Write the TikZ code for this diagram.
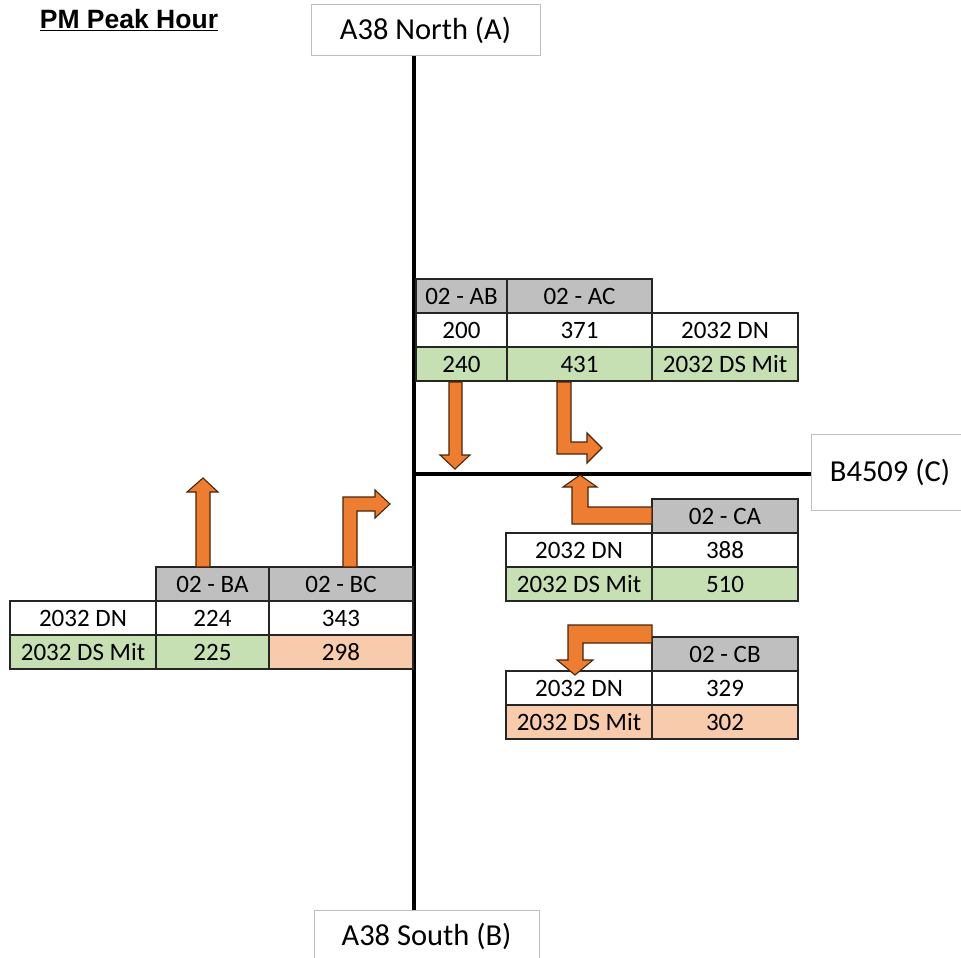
\documentclass[tikz,border=0pt]{standalone}
\usepackage{fontspec}
\setmainfont{Carlito}
\newfontfamily\titlefont{Liberation Sans}
\usetikzlibrary{positioning}
\definecolor{hdrgray}{HTML}{BFBFBF}
\definecolor{mitgreen}{HTML}{C6E0B4}
\definecolor{mitpeach}{HTML}{F8CBAD}
\definecolor{flowfill}{HTML}{ED7D31}
\definecolor{flowline}{HTML}{4A250B}
\newcommand{\cellfont}{\fontsize{25}{28}\selectfont}
\newcommand{\roadfont}{\fontsize{30.5}{33}\selectfont}

\begin{document}
\begin{tikzpicture}[
  x=1pt, y=-1pt,
  cell/.style={rectangle, draw=black!85, line width=1.1pt, outer sep=0pt, inner sep=0pt, minimum height=34pt, font=\cellfont},
  hdr/.style={cell, fill=hdrgray},
  dn/.style={cell, fill=white},
  mit/.style={cell, fill=mitgreen},
  low/.style={cell, fill=mitpeach},
  road/.style={rectangle, draw=black!25, line width=1pt, fill=white, inner sep=0pt, font=\roadfont},
  roadline/.style={line width=4pt, draw=black},
  flow/.style={fill=flowfill, draw=flowline, line width=1.1pt, line join=miter}
]
\useasboundingbox (0,0) rectangle (961,958);

% title
\node[anchor=base, font={\titlefont\bfseries\fontsize{26.5}{28}\selectfont}] (title) at (129,29) {\underline{PM Peak Hour}};

% roads
\coordinate (jn) at (414,474);
\node[road, minimum width=229pt, minimum height=51pt] (north) at (425.5,30.5) {A38 North (A)};
\node[road, minimum width=225pt, minimum height=52pt] (south) at (426.5,936) {A38 South (B)};
\node[road, minimum width=158pt, minimum height=76pt] (east) at (890,472) {B4509 (C)};
\draw[roadline] (north.south -| jn) -- (south.north -| jn);
\draw[roadline] (jn) -- (east.west |- jn);

% movements from A
\node[hdr, anchor=north west, minimum width=91pt] (hab) at (416,279) {02 - AB};
\node[hdr, right=0pt of hab, minimum width=145pt] (hac) {02 - AC};
\node[dn, below=0pt of hab, minimum width=91pt] (dab) {200};
\node[dn, right=0pt of dab, minimum width=145pt] (dac) {371};
\node[dn, right=0pt of dac, minimum width=146pt] (ldnA) {2032 DN};
\node[mit, below=0pt of dab, minimum width=91pt] (mab) {240};
\node[mit, right=0pt of mab, minimum width=145pt] (mac) {431};
\node[mit, right=0pt of mac, minimum width=146pt] (lmitA) {2032 DS Mit};

% movements from B
\node[hdr, anchor=north west, minimum width=113pt] (hba) at (156,567) {02 - BA};
\node[hdr, right=0pt of hba, minimum width=144pt] (hbc) {02 - BC};
\node[dn, below=0pt of hba, minimum width=113pt] (dba) {224};
\node[dn, left=0pt of dba, minimum width=146pt] (ldnB) {2032 DN};
\node[dn, right=0pt of dba, minimum width=144pt] (dbc) {343};
\node[mit, below=0pt of dba, minimum width=113pt] (mba) {225};
\node[mit, left=0pt of mba, minimum width=146pt] (lmitB) {2032 DS Mit};
\node[low, right=0pt of mba, minimum width=144pt] (mbc) {298};

% movements from C
\node[hdr, anchor=north west, minimum width=146pt] (hca) at (652,499) {02 - CA};
\node[dn, below=0pt of hca, minimum width=146pt] (dca) {388};
\node[dn, left=0pt of dca, minimum width=146pt] (ldnCA) {2032 DN};
\node[mit, below=0pt of dca, minimum width=146pt] (mca) {510};
\node[mit, left=0pt of mca, minimum width=146pt] (lmitCA) {2032 DS Mit};

\node[hdr, anchor=north west, minimum width=146pt] (hcb) at (652,637) {02 - CB};
\node[dn, below=0pt of hcb, minimum width=146pt] (dcb) {329};
\node[dn, left=0pt of dcb, minimum width=146pt] (ldnCB) {2032 DN};
\node[low, below=0pt of dcb, minimum width=146pt] (mcb) {302};
\node[low, left=0pt of mcb, minimum width=146pt] (lmitCB) {2032 DS Mit};

% turn arrows
\draw[flow] (449,382) -- (462,382) -- (462,455) -- (470,455) -- (455,469) -- (440,455) -- (449,455) -- cycle;
\draw[flow] (557,382) -- (571,382) -- (571,442) -- (587,442) -- (587,433) -- (602,448) -- (587,463) -- (587,454) -- (557,454) -- cycle;
\draw[flow] (196,567) -- (196,492) -- (187,492) -- (203,478) -- (218,492) -- (210,492) -- (210,567) -- cycle;
\draw[flow] (343,567) -- (343,497) -- (375,497) -- (375,490) -- (390,504) -- (375,518) -- (375,511) -- (357,511) -- (357,567) -- cycle;
\draw[flow] (652,507) -- (588,507) -- (588,487) -- (597,487) -- (580,475) -- (563,487) -- (572,487) -- (572,524) -- (652,524) -- cycle;
\draw[flow] (652,625) -- (568,625) -- (568,660) -- (557,660) -- (575,675) -- (593,660) -- (583,660) -- (583,643) -- (652,643) -- cycle;
\end{tikzpicture}
\end{document}
